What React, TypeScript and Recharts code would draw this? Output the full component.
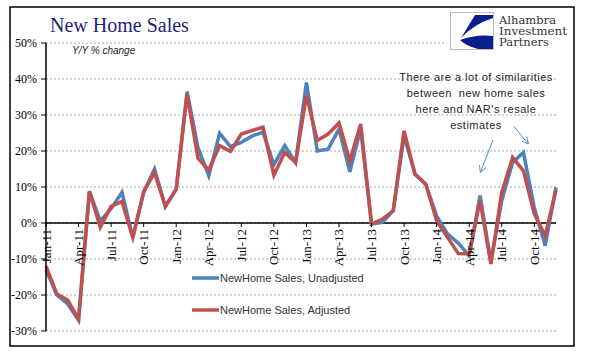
import React from "react";
import {
  LineChart,
  Line,
  XAxis,
  YAxis,
  CartesianGrid,
  ReferenceLine,
  Legend,
} from "recharts";

const MONTHS = ["Jan", "Feb", "Mar", "Apr", "May", "Jun", "Jul", "Aug", "Sep", "Oct", "Nov", "Dec"];
const YEARS = ["11", "12", "13", "14"];
const categories = YEARS.flatMap((y) => MONTHS.map((m) => `${m}-${y}`));

// Y/Y % change
const unadjusted = [
  -13, -20, -22.5, -27, 8.8, 0.6, 4, 8.5, -4, 8.5, 15, 4.6,
  9.4, 36.5, 21, 13.1, 24.9, 21.2, 22.4, 24.2, 25.2, 16.2, 21.5, 16.8,
  39, 20, 20.5, 26.1, 14.2, 26.1, -0.3, 0.2, 3.4, 24.2, 13.6, 10.8,
  2, -3, -5.6, -9.1, 7.6, -10.8, 6.2, 16.8, 19.6, 4.3, -6.3, 9.9,
];
const adjusted = [
  -12, -19.7, -21.4, -26.7, 8.8, -1.2, 4.6, 6, -4, 8.7, 14, 4.6,
  9.4, 35.8, 18, 14.7, 21.5, 19.9, 24.7, 25.7, 26.6, 13.3, 19.6, 16.8,
  35.4, 22.9, 24.7, 27.8, 17.3, 27.5, -0.3, 1.1, 3.4, 25.6, 13.6, 10.8,
  0.6, -4, -8.5, -8.6, 6.2, -11.4, 8.5, 18.2, 14.5, 2.5, -3.5, 9.2,
];
const yTicks = [-30, -20, -10, 0, 10, 20, 30, 40, 50];

const SERIES = [
  { key: "unadjusted", name: "NewHome Sales, Unadjusted", color: "#4F81BD" },
  { key: "adjusted", name: "NewHome Sales, Adjusted", color: "#C0504D" },
];

const data = categories.map((month, i) => ({
  month,
  unadjusted: unadjusted[i],
  adjusted: adjusted[i],
}));

const W = 596;
const H = 361;
const MARGIN = { top: 43, right: 40, left: 0, bottom: 0 };
const X_AXIS_H = 30;
const PLOT_H = H - MARGIN.top - MARGIN.bottom - X_AXIS_H;
const Y_MIN = yTicks[0];
const Y_MAX = yTicks[yTicks.length - 1];
// the category axis crosses at 0%, like the Excel original
const ZERO_FROM_BOTTOM = (PLOT_H * (0 - Y_MIN)) / (Y_MAX - Y_MIN);

const serif = "'Liberation Serif', 'Times New Roman', serif";
const sans = "'Liberation Sans', Arial, sans-serif";

const MonthTick = (props: any) => {
  const { x, y, payload } = props;
  const y0 = y - ZERO_FROM_BOTTOM;
  return (
    <g>
      <line x1={x} y1={y0} x2={x} y2={y0 + 4} stroke="#000" strokeWidth={1} />
      <text
        transform={`translate(${x},${y0 + 6}) rotate(-90)`}
        textAnchor="end"
        dominantBaseline="central"
        fontFamily={serif}
        fontSize={13}
        fill="#000"
      >
        {payload.value}
      </text>
    </g>
  );
};

const LegendContent = (props: any) => {
  const payload = [...(props.payload || [])].sort(
    (a: any, b: any) =>
      SERIES.findIndex((s) => s.key === a.dataKey) - SERIES.findIndex((s) => s.key === b.dataKey)
  );
  return (
    <div>
      {payload.map((entry: any) => (
        <div key={entry.value} style={{ display: "flex", alignItems: "center", height: 32 }}>
          <svg width={27} height={6}>
            <line x1={0} y1={3} x2={27} y2={3} stroke={entry.color} strokeWidth={3.5} />
          </svg>
          <span style={{ fontFamily: sans, fontSize: 11, color: "#333", marginLeft: 1, whiteSpace: "nowrap" }}>
            {entry.value}
          </span>
        </div>
      ))}
    </div>
  );
};

export default function App() {
  return (
    <div style={{ position: "absolute", left: 0, top: 0, width: W, height: H, background: "#fff" }}>
      <LineChart width={W} height={H} data={data} margin={MARGIN}>
        <CartesianGrid vertical={false} stroke="#a8a8a8" strokeDasharray="2 2" />
        <XAxis
          dataKey="month"
          height={X_AXIS_H}
          interval={2}
          axisLine={false}
          tickLine={false}
          tickSize={0}
          tickMargin={0}
          tick={<MonthTick />}
        />
        <YAxis
          width={46}
          domain={[Y_MIN, Y_MAX]}
          ticks={yTicks}
          tickFormatter={(v: number) => `${v}%`}
          axisLine={{ stroke: "#000", strokeWidth: 1.5 }}
          tickLine={{ stroke: "#000" }}
          tickSize={5}
          tickMargin={4}
          tick={{ fontFamily: serif, fontSize: 12, fill: "#000" }}
        />
        <ReferenceLine y={0} stroke="#000" strokeWidth={1.5} />
        <Legend
          layout="vertical"
          align="center"
          verticalAlign="middle"
          wrapperStyle={{ left: 192, top: 262, width: 200 }}
          content={<LegendContent />}
        />
        {SERIES.map((s) => (
          <Line
            key={s.key}
            dataKey={s.key}
            name={s.name}
            stroke={s.color}
            strokeWidth={3.5}
            dot={false}
            isAnimationActive={false}
          />
        ))}
      </LineChart>

      {/* title and notes */}
      <div style={{ position: "absolute", left: 50, top: 14, fontFamily: serif, fontSize: 20, color: "#1F1F7A", whiteSpace: "nowrap" }}>
        New Home Sales
      </div>
      <div style={{ position: "absolute", left: 72, top: 45, fontFamily: sans, fontSize: 10, fontStyle: "italic", color: "#222" }}>
        Y/Y % change
      </div>
      <div
        style={{
          position: "absolute",
          left: 376,
          top: 69,
          width: 200,
          textAlign: "center",
          fontFamily: sans,
          fontSize: 11,
          letterSpacing: 0.5,
          lineHeight: "16px",
          color: "#262626",
        }}
      >
        There are a lot of similarities
        <br />
        between&nbsp; new home sales
        <br />
        here and NAR's resale
        <br />
        estimates
      </div>

      {/* logo */}
      <div style={{ position: "absolute", left: 447, top: 9, width: 125, height: 42, background: "#fff" }} />
      <svg style={{ position: "absolute", left: 0, top: 0 }} width={W} height={H}>
        <defs>
          <marker id="arr" viewBox="0 0 10 10" refX="9" refY="5" markerWidth="7" markerHeight="7" orient="auto-start-reverse">
            <path d="M0,0 L10,5 L0,10" fill="none" stroke="#5B87C0" strokeWidth={1.3} />
          </marker>
        </defs>
        <rect x={450.5} y={12.5} width={43} height={37} fill="#fff" stroke="#bbb" strokeWidth={1} />
        <path d="M475,15 L493,15 L493,18 Q474,24 461,38 Z" fill="#0B1F8C" />
        <path d="M460,40 Q476,34 493,36 L493,49 L478,49 Q466,46 460,40 Z" fill="#0B1F8C" />
        <text fontFamily="'DejaVu Serif', serif" fontSize={10.5} fill="#333">
          <tspan x={499} y={23.5} textLength={57} lengthAdjust="spacingAndGlyphs">Alhambra</tspan>
          <tspan x={499} y={34.5} textLength={68} lengthAdjust="spacingAndGlyphs">Investment</tspan>
          <tspan x={499} y={45.5} textLength={50} lengthAdjust="spacingAndGlyphs">Partners</tspan>
        </text>
        <line x1={493} y1={140} x2={480.5} y2={172} stroke="#5B87C0" strokeWidth={1} markerEnd="url(#arr)" />
        <line x1={514} y1={126.5} x2={528} y2={143.5} stroke="#5B87C0" strokeWidth={1} markerEnd="url(#arr)" />
        <rect x={10} y={7} width={564} height={339} fill="none" stroke="#000" strokeWidth={1.5} />
      </svg>
    </div>
  );
}
